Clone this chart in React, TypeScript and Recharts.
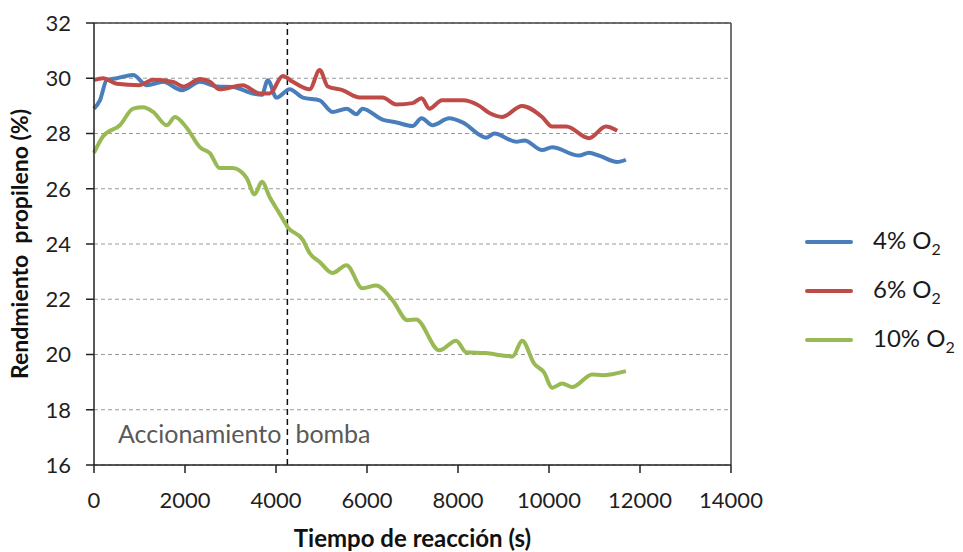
import React from 'react';
import {
  LineChart,
  Line,
  XAxis,
  YAxis,
  CartesianGrid,
  ReferenceLine,
  Label,
} from 'recharts';

// tiempo de reacción (s) y rendimiento (%)
const t4 = [0, 130, 280, 500, 860, 1160, 1520, 1930, 2330, 2700, 3050, 3490, 3690, 3820, 4010, 4300, 4590, 4960, 5240, 5550, 5770, 5900, 6340, 6650, 7000, 7200, 7440, 7810, 8100, 8620, 8800, 9280, 9460, 9850, 10070, 10660, 10880, 11100, 11500, 11690];
const y4 = [28.9, 29.2, 29.93, 30.0, 30.12, 29.75, 29.87, 29.57, 29.87, 29.7, 29.68, 29.45, 29.4, 29.93, 29.3, 29.6, 29.3, 29.2, 28.78, 28.9, 28.7, 28.9, 28.5, 28.4, 28.27, 28.55, 28.3, 28.55, 28.4, 27.85, 28.0, 27.7, 27.75, 27.4, 27.5, 27.2, 27.3, 27.2, 26.97, 27.05];

const t6 = [0, 200, 500, 1000, 1300, 1740, 1960, 2330, 2550, 2760, 3270, 3640, 3860, 4150, 4370, 4740, 4960, 5140, 5460, 5840, 6340, 6650, 7000, 7200, 7370, 7650, 8100, 8470, 8690, 8970, 9410, 9850, 10070, 10380, 10880, 11250, 11500];
const y6 = [29.93, 30.0, 29.8, 29.75, 29.95, 29.87, 29.7, 29.97, 29.87, 29.6, 29.75, 29.45, 29.45, 30.08, 29.87, 29.6, 30.3, 29.7, 29.57, 29.3, 29.3, 29.05, 29.1, 29.28, 28.9, 29.2, 29.2, 29.0, 28.74, 28.6, 29.0, 28.6, 28.25, 28.25, 27.83, 28.25, 28.1];

const t10 = [0, 200, 570, 860, 1080, 1300, 1600, 1780, 2040, 2330, 2550, 2760, 3050, 3350, 3530, 3690, 3860, 4080, 4260, 4590, 4740, 4960, 5240, 5550, 5900, 6200, 6560, 6890, 7080, 7590, 7960, 8180, 8600, 9200, 9410, 9670, 9890, 10070, 10290, 10510, 10950, 11170, 11690];
const y10 = [27.3, 27.9, 28.3, 28.9, 28.95, 28.78, 28.3, 28.6, 28.2, 27.5, 27.28, 26.75, 26.75, 26.4, 25.8, 26.25, 25.7, 25.1, 24.6, 24.15, 23.67, 23.35, 22.95, 23.23, 22.4, 22.5, 21.97, 21.24, 21.27, 20.15, 20.5, 20.08, 20.05, 19.93, 20.5, 19.68, 19.35, 18.8, 18.95, 18.82, 19.28, 19.25, 19.4];

const xTicks = [0, 2000, 4000, 6000, 8000, 10000, 12000, 14000];
const yTicks = [16, 18, 20, 22, 24, 26, 28, 30, 32];
const pumpTime = 4250;

const series = [
  { key: '4', name: '4% O', color: '#4a7ebb', t: t4, y: y4 },
  { key: '6', name: '6% O', color: '#be4b48', t: t6, y: y6 },
  { key: '10', name: '10% O', color: '#98b954', t: t10, y: y10 },
];

const FONT = 'Lato, "Open Sans", sans-serif';

function zip(t: number[], y: number[]) {
  return t.map((v, i) => ({ t: v, y: y[i] }));
}

function LegendBox() {
  return (
    <div style={{ position: 'absolute', left: 805, top: 217, fontFamily: FONT, fontSize: 24, color: '#1a1a1a' }}>
      {series.map((s) => (
        <div key={s.key} style={{ display: 'flex', alignItems: 'center', height: 49 }}>
          <div style={{ width: 48, height: 4, background: s.color, borderRadius: 2, marginRight: 20 }} />
          <span>
            {s.name}
            <sub style={{ fontSize: 16, verticalAlign: -6 }}>2</sub>
          </span>
        </div>
      ))}
    </div>
  );
}

function PumpLabel(props: any) {
  const { viewBox } = props;
  const x = viewBox.x;
  const y = viewBox.y + viewBox.height - 28;
  return (
    <g fontFamily={FONT} fontSize={25} fill="#595959">
      <text x={x - 6} y={y} textAnchor="end" dominantBaseline="middle">Accionamiento</text>
      <text x={x + 8} y={y} textAnchor="start" dominantBaseline="middle">bomba</text>
    </g>
  );
}

function YTitle(props: any) {
  const { viewBox } = props;
  const cx = 22;
  const cy = viewBox.y + viewBox.height / 2;
  return (
    <text x={cx} y={cy} transform={`rotate(-90 ${cx} ${cy})`} textAnchor="middle" dominantBaseline="middle"
      fontFamily={FONT} fontWeight="bold" fontSize={23} fill="#111">
      Rendmiento{'\u00a0\u00a0'}propileno (%)
    </text>
  );
}

export default function App() {
  return (
    <div style={{ position: 'absolute', left: 0, top: 0, width: 963, height: 552, background: '#fff' }}>
      <LineChart width={963} height={552} margin={{ top: 23, right: 232, bottom: 7, left: 0 }}>
        <CartesianGrid vertical={false} stroke="#9a9a9a" strokeDasharray="4 3" />
        <XAxis
          type="number"
          dataKey="t"
          domain={[0, 14000]}
          ticks={xTicks}
          interval={0}
          height={80}
          tickSize={8}
          tickMargin={19}
          stroke="#222"
          strokeWidth={1.5}
          tick={{ fontFamily: FONT, fontSize: 22, fill: '#1f1f1f' }}
        >
          <Label
            value="Tiempo de reacción (s)"
            position="insideBottom"
            offset={-2}
            style={{ fontFamily: FONT, fontWeight: 'bold', fontSize: 24, fill: '#111' }}
          />
        </XAxis>
        <YAxis
          type="number"
          domain={[16, 32]}
          ticks={yTicks}
          interval={0}
          width={94}
          tickSize={8}
          tickMargin={15}
          stroke="#222"
          strokeWidth={1.5}
          tick={{ fontFamily: FONT, fontSize: 22, fill: '#1f1f1f' }}
        >
          <Label content={<YTitle />} />
        </YAxis>
        <ReferenceLine y={32} stroke="#444" strokeWidth={1.5} />
        <ReferenceLine x={14000} stroke="#444" strokeWidth={1.5} />
        <ReferenceLine x={pumpTime} stroke="#111" strokeWidth={1.5} strokeDasharray="6 4" label={<PumpLabel />} />
        {series.map((s) => (
          <Line
            key={s.key}
            data={zip(s.t, s.y)}
            dataKey="y"
            name={s.name}
            type="monotone"
            stroke={s.color}
            strokeWidth={4}
            dot={false}
            isAnimationActive={false}
          />
        ))}
      </LineChart>
      <LegendBox />
    </div>
  );
}
